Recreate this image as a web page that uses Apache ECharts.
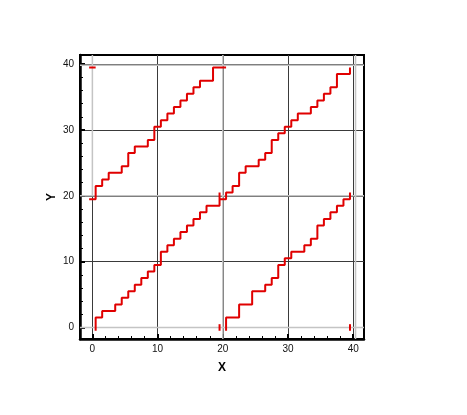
<!DOCTYPE html>
<html>
<head>
<meta charset="utf-8">
<style>
  html, body { margin: 0; padding: 0; background: #fff; }
  #chart { width: 467px; height: 415px; }
</style>
<script src="https://cdn.jsdelivr.net/npm/echarts@6/dist/echarts.min.js"></script>
</head>
<body>
<div id="chart"></div>
<script>
// 축 범위 / 눈금
const xRange = [-1.9, 41.65];
const yRange = [-1.75, 41.4];
const majorTicks = [0, 10, 20, 30, 40];
const minorTicks = [2, 4, 6, 8, 12, 14, 16, 18, 22, 24, 26, 28, 32, 34, 36, 38];

// 블록별 계단선 (꼭짓점)
const lineBL = [[0.5,-0.5],[0.5,1.5],[1.5,1.5],[1.5,2.5],[3.5,2.5],[3.5,3.5],[4.5,3.5],[4.5,4.5],[5.5,4.5],[5.5,5.5],[6.5,5.5],[6.5,6.5],[7.5,6.5],[7.5,7.5],[8.5,7.5],[8.5,8.5],[9.5,8.5],[9.5,9.5],[10.5,9.5],[10.5,11.5],[11.5,11.5],[11.5,12.5],[12.5,12.5],[12.5,13.5],[13.5,13.5],[13.5,14.5],[14.5,14.5],[14.5,15.5],[15.5,15.5],[15.5,16.5],[16.5,16.5],[16.5,17.5],[17.5,17.5],[17.5,18.5],[19.5,18.5],[19.5,20.5]];
const lineTR = [[19.5,19.5],[20.5,19.5],[20.5,20.5],[21.5,20.5],[21.5,21.5],[22.5,21.5],[22.5,23.5],[23.5,23.5],[23.5,24.5],[25.5,24.5],[25.5,25.5],[26.5,25.5],[26.5,26.5],[27.5,26.5],[27.5,28.5],[28.5,28.5],[28.5,29.5],[29.5,29.5],[29.5,30.5],[30.5,30.5],[30.5,31.5],[31.5,31.5],[31.5,32.5],[33.5,32.5],[33.5,33.5],[34.5,33.5],[34.5,34.5],[35.5,34.5],[35.5,35.5],[36.5,35.5],[36.5,36.5],[37.5,36.5],[37.5,38.5],[39.5,38.5],[39.5,39.5]];
const lineTL = [[-0.5,19.5],[0.5,19.5],[0.5,21.5],[1.5,21.5],[1.5,22.5],[2.5,22.5],[2.5,23.5],[4.5,23.5],[4.5,24.5],[5.5,24.5],[5.5,26.5],[6.5,26.5],[6.5,27.5],[8.5,27.5],[8.5,28.5],[9.5,28.5],[9.5,30.5],[10.5,30.5],[10.5,31.5],[11.5,31.5],[11.5,32.5],[12.5,32.5],[12.5,33.5],[13.5,33.5],[13.5,34.5],[14.5,34.5],[14.5,35.5],[15.5,35.5],[15.5,36.5],[16.5,36.5],[16.5,37.5],[18.5,37.5],[18.5,39.5],[20.5,39.5]];
const lineBR = [[20.5,-0.5],[20.5,1.5],[22.5,1.5],[22.5,3.5],[24.5,3.5],[24.5,5.5],[26.5,5.5],[26.5,6.5],[27.5,6.5],[27.5,7.5],[28.5,7.5],[28.5,9.5],[29.5,9.5],[29.5,10.5],[30.5,10.5],[30.5,11.5],[32.5,11.5],[32.5,12.5],[33.5,12.5],[33.5,13.5],[34.5,13.5],[34.5,15.5],[35.5,15.5],[35.5,16.5],[36.5,16.5],[36.5,17.5],[37.5,17.5],[37.5,18.5],[38.5,18.5],[38.5,19.5],[39.5,19.5],[39.5,20.5]];

// 경계 고스트 조각
const ghostPieces = [
  [[19.5,-0.5],[19.5,0.5]],
  [[39.5,-0.5],[39.5,0.5]],
  [[-0.5,39.5],[0.5,39.5]]
];

// 블록 경계선 (회색): 세로 [x, y0, y1], 가로 [y, x0, x1]
const boundaryV = [[0, 20, 41.4], [20, -1.75, 41.4], [40.35, -1.75, 41.4]];
const boundaryH = [[0, -1.9, 41.65], [20, -1.9, 41.65], [39.85, -1.9, 41.65]];

const font = '"Liberation Sans", Arial, sans-serif';
const redStyle = { color: '#e00000', width: 2 };
const greyStyle = { color: '#c4c4c4', width: 1.5 };

const stepSeries = pts => ({
  type: 'line', data: pts, symbol: 'none', lineStyle: redStyle,
  silent: true, animation: false, z: 5
});
const greySeries = pts => ({
  type: 'line', data: pts, symbol: 'none', lineStyle: greyStyle,
  silent: true, animation: false, z: 3
});

const series = [];
boundaryV.forEach(([x, y0, y1]) => series.push(greySeries([[x, y0], [x, y1]])));
boundaryH.forEach(([y, x0, x1]) => series.push(greySeries([[x0, y], [x1, y]])));
[lineBL, lineTR, lineTL, lineBR].forEach(l => series.push(stepSeries(l)));
ghostPieces.forEach(p => series.push(stepSeries(p)));

const nameStyle = { fontWeight: 'bold', fontSize: 12, color: '#000', fontFamily: font };

const majorAxis = (range, extra) => Object.assign({
  type: 'value', min: range[0], max: range[1],
  nameMoveOverlap: false,
  axisLine: { show: true, onZero: false, lineStyle: { color: '#000', width: 2.5 } },
  axisTick: { show: true, inside: true, length: 5, customValues: majorTicks, lineStyle: { color: '#000', width: 2 } },
  axisLabel: { customValues: majorTicks, fontSize: 10, color: '#111', fontFamily: font, margin: 6 },
  splitLine: { show: true, lineStyle: { color: '#3a3a3a', width: 1 } }
}, extra);
const minorAxis = (range, extra) => Object.assign({
  type: 'value', min: range[0], max: range[1],
  axisLine: { show: false, onZero: false },
  axisTick: { show: true, inside: true, length: 3, customValues: minorTicks, lineStyle: { color: '#000', width: 1 } },
  axisLabel: { show: false },
  splitLine: { show: false }
}, extra);

const chart = echarts.init(document.getElementById('chart'));
chart.setOption({
  animation: false,
  grid: { left: 80, top: 55, width: 284, height: 284, show: true, borderColor: '#000', borderWidth: 2 },
  xAxis: [
    majorAxis(xRange, {
      position: 'bottom', name: 'X', nameLocation: 'middle', nameGap: 23,
      axisLabel: { customValues: majorTicks, fontSize: 10, color: '#111', fontFamily: font, margin: 5 },
      nameTextStyle: nameStyle
    }),
    minorAxis(xRange, { position: 'bottom' })
  ],
  yAxis: [
    majorAxis(yRange, {
      position: 'left', name: 'Y', nameLocation: 'middle', nameGap: 22, nameRotate: 90,
      nameTextStyle: nameStyle
    }),
    minorAxis(yRange, { position: 'left' })
  ],
  series
});
</script>
</body>
</html>
